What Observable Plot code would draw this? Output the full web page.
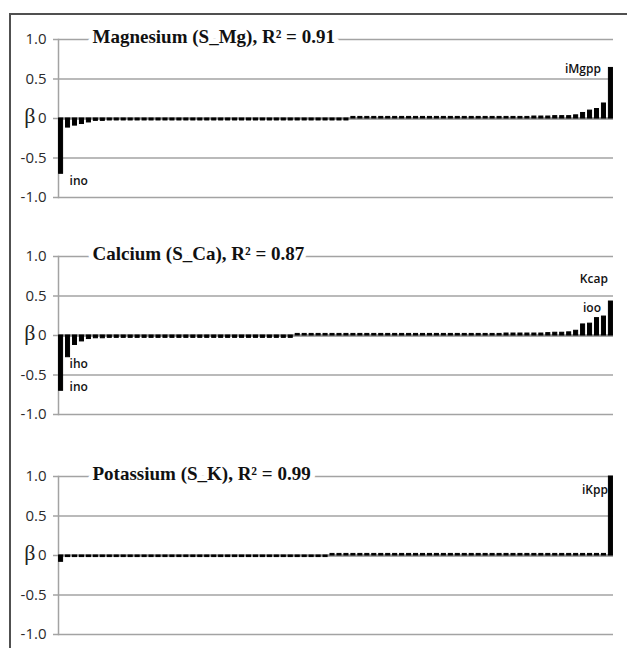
<!DOCTYPE html>
<html><head><meta charset="utf-8">
<script src="https://cdn.jsdelivr.net/npm/d3@7"></script>
<script src="https://cdn.jsdelivr.net/npm/@observablehq/plot@0.6"></script>
<style>
html,body{margin:0;padding:0;background:#fff;}
#page{position:relative;width:627px;height:648px;overflow:hidden;background:#fff;}
#frame{position:absolute;left:9px;top:13px;width:700px;height:700px;border:2px solid #505050;box-sizing:border-box;}
.panel{position:absolute;left:0;}
</style></head><body><div id="page"><div id="frame"></div></div>
<script>
const yTicks = [-1, -0.5, 0, 0.5, 1];

const titles = [
  "Magnesium (S_Mg), R\u00b2 = 0.91",
  "Calcium (S_Ca), R\u00b2 = 0.87",
  "Potassium (S_K), R\u00b2 = 0.99"
];

const mgValues = [
  -0.70,-0.115,-0.09,-0.07,-0.05,-0.03,-0.03,-0.025,-0.025,-0.025,
  -0.025,-0.025,-0.025,-0.025,-0.025,-0.025,-0.025,-0.025,-0.025,-0.025,
  -0.025,-0.025,-0.025,-0.025,-0.025,-0.025,-0.025,-0.025,-0.025,-0.025,
  -0.025,-0.025,-0.025,-0.025,-0.025,-0.025,-0.025,-0.025,-0.025,-0.025,
  -0.025,-0.025,0.02,0.02,0.02,0.02,0.02,0.02,0.02,0.02,
  0.02,0.02,0.02,0.02,0.02,0.02,0.02,0.02,0.02,0.02,
  0.02,0.02,0.02,0.02,0.02,0.02,0.02,0.02,0.025,0.025,
  0.025,0.03,0.03,0.03,0.04,0.07,0.10,0.12,0.19,0.64
];

const caValues = [
  -0.70,-0.275,-0.12,-0.075,-0.045,-0.035,-0.035,-0.03,-0.03,-0.03,
  -0.03,-0.03,-0.03,-0.03,-0.03,-0.03,-0.03,-0.03,-0.03,-0.03,
  -0.03,-0.03,-0.03,-0.03,-0.03,-0.03,-0.03,-0.03,-0.03,-0.03,
  -0.03,-0.03,-0.03,-0.03,0.02,0.02,0.02,0.02,0.02,0.02,
  0.02,0.02,0.02,0.02,0.02,0.02,0.02,0.02,0.02,0.02,
  0.02,0.02,0.02,0.02,0.02,0.02,0.02,0.02,0.02,0.02,
  0.02,0.02,0.02,0.02,0.025,0.025,0.025,0.025,0.025,0.025,
  0.03,0.035,0.035,0.04,0.06,0.14,0.15,0.22,0.24,0.43
];

const kValues = [
  -0.08,-0.02,-0.02,-0.02,-0.02,-0.02,-0.02,-0.02,-0.02,-0.02,
  -0.02,-0.02,-0.02,-0.02,-0.02,-0.02,-0.02,-0.02,-0.02,-0.02,
  -0.02,-0.02,-0.02,-0.02,-0.02,-0.02,-0.02,-0.02,-0.02,-0.02,
  -0.02,-0.02,-0.02,-0.02,-0.02,-0.02,-0.02,-0.02,-0.02,0.02,
  0.02,0.02,0.02,0.02,0.02,0.02,0.02,0.02,0.02,0.02,
  0.02,0.02,0.02,0.02,0.02,0.02,0.02,0.02,0.02,0.02,
  0.02,0.02,0.02,0.02,0.02,0.02,0.02,0.02,0.02,0.02,
  0.02,0.02,0.02,0.02,0.02,0.02,0.02,0.02,0.02,1.00
];

// annotation labels: bar index, y value, text
const mgLeftLabels = [{i: 1, y: -0.79, text: "ino"}];
const mgRightLabels = [{i: 78, y: 0.63, text: "iMgpp"}];
const caLeftLabels = [{i: 1, y: -0.36, text: "iho"}, {i: 1, y: -0.66, text: "ino"}];
const caRightLabels = [{i: 79, y: 0.71, text: "Kcap"}, {i: 78, y: 0.35, text: "ioo"}];
const kLeftLabels = [];
const kRightLabels = [{i: 79, y: 0.83, text: "iKpp"}];

const panelTops = [0, 217, 437];

function panel(values, title, leftLabels, rightLabels, top) {
  const data = values.map((v, i) => ({i, v}));
  const labelStyle = {fontFamily: "Open Sans", fontSize: 12, fontWeight: 600, fill: "#111"};
  const p = Plot.plot({
    width: 627, height: 218,
    marginLeft: 58, marginRight: 14, marginTop: 39, marginBottom: 21,
    x: {type: "band", domain: data.map(d => d.i), paddingInner: 0.42, paddingOuter: 0.08, axis: null},
    y: {domain: [-1, 1], axis: null},
    style: {background: "transparent", overflow: "visible"},
    marks: [
      Plot.ruleY(yTicks.filter(t => t !== 0), {stroke: "#a3a3a3", strokeWidth: 1.5}),
      Plot.frame({anchor: "left", stroke: "#a3a3a3", strokeWidth: 1.5}),
      Plot.axisY({
        ticks: yTicks, tickSize: 5,
        stroke: "#a3a3a3", strokeWidth: 1.5,
        fill: "none", label: null
      }),
      Plot.text(yTicks, {
        frameAnchor: "left", y: d => d, dx: -12, textAnchor: "end",
        text: d => d === 0 ? "0" : d.toFixed(1),
        fontFamily: "Open Sans", fontSize: 15, fill: "#2b2b2b"
      }),
      Plot.ruleY([0], {stroke: "#8a8a8a", strokeWidth: 2.5}),
      Plot.barY(data, {x: "i", y: "v", fill: "#000", stroke: "#000", strokeWidth: 1}),
      Plot.text([title], {
        frameAnchor: "left", y: () => 1, dx: 34, dy: -3, textAnchor: "start",
        fontFamily: "Liberation Serif", fontSize: 19, fontWeight: "bold", fill: "#111",
        stroke: "white", strokeWidth: 10
      }),
      Plot.text(["\u03b2"], {
        frameAnchor: "left", y: () => 0, dx: -23, dy: -3, textAnchor: "end",
        fontFamily: "Liberation Serif", fontSize: 22, fill: "#222"
      }),
      Plot.text(leftLabels, {x: "i", y: "y", text: "text", textAnchor: "start", dx: 1.5, ...labelStyle}),
      Plot.text(rightLabels, {x: "i", y: "y", text: "text", textAnchor: "end", dx: -3, ...labelStyle})
    ]
  });
  const wrap = document.createElement("div");
  wrap.className = "panel";
  wrap.style.top = top + "px";
  wrap.appendChild(p);
  document.getElementById("page").appendChild(wrap);
}

panel(mgValues, titles[0], mgLeftLabels, mgRightLabels, panelTops[0]);
panel(caValues, titles[1], caLeftLabels, caRightLabels, panelTops[1]);
panel(kValues, titles[2], kLeftLabels, kRightLabels, panelTops[2]);
</script>
</body></html>
